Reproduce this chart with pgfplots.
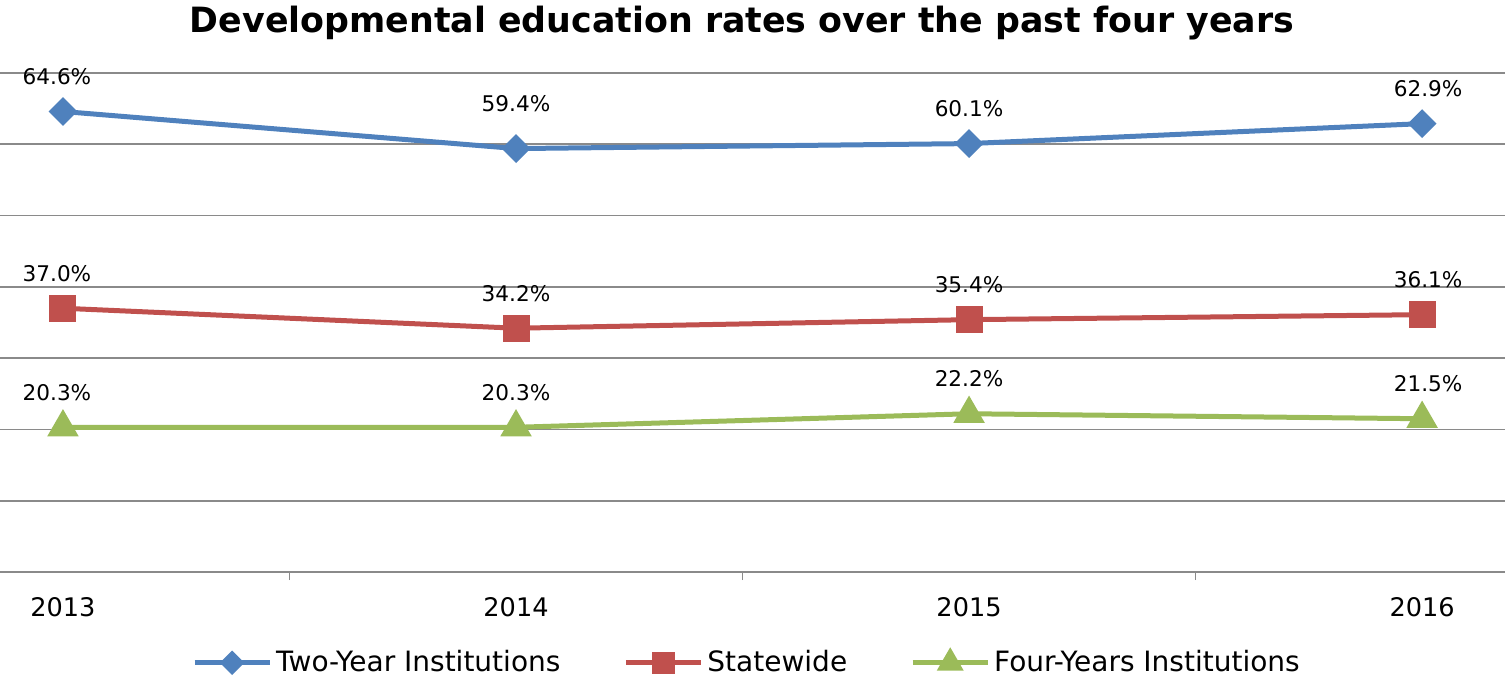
\documentclass[border=0pt]{standalone}
\usepackage{fontspec}
\setmainfont{DejaVu Sans}
\usepackage{pgfplots}
\pgfplotsset{compat=1.18}

\definecolor{twoyr}{HTML}{4F81BD}
\definecolor{statew}{HTML}{C0504D}
\definecolor{fouryr}{HTML}{9BBB59}
\definecolor{gridgray}{HTML}{8A8A8A}

\begin{document}
\begin{tikzpicture}
\begin{axis}[
    scale only axis,
    width=752.5pt, height=249.5pt,
    xmin=-0.139, xmax=3.183,
    ymin=0, ymax=70,
    axis lines*=left,
    y axis line style={draw=none},
    x axis line style={draw=gridgray, line width=1.2pt},
    xtick={0,1,2,3},
    xticklabels={2013,2014,2015,2016},
    minor xtick={0.5,1.5,2.5},
    major tick length=0pt,
    minor tick length=4pt,
    tick align=outside,
    minor tick style={draw=gridgray, line width=0.8pt},
    ytick={0,10,...,70},
    yticklabels={},
    ymajorgrids,
    major grid style={draw=gridgray, line width=0.8pt},
    xticklabel style={font=\fontsize{12.8}{15}\selectfont, anchor=center, yshift=-17.5pt},
    /pgf/number format/assume math mode=true,
    title={Developmental education rates over the past four years},
    title style={font=\fontsize{17.4}{20}\selectfont\bfseries, at={(0.493,1)}, anchor=center, yshift=19pt},
    point meta=y,
    nodes near coords={\pgfmathprintnumber[fixed,fixed zerofill,precision=1]{\pgfplotspointmeta}\%},
    every node near coord/.append style={font=\fontsize{10.8}{13}\selectfont, text=black, anchor=center, yshift=17.5pt},
    coordinate style/.condition={\coordindex==0}{xshift=-3pt},
    coordinate style/.condition={\coordindex==3}{xshift=3pt},
    legend style={at={(axis description cs:0.497,-0.182)}, anchor=center, legend columns=3,
        draw=none, fill=none, font=\fontsize{14}{16}\selectfont,
        /tikz/every even column/.append style={column sep=29.5pt}},
    legend cell align=left,
    legend image code/.code={\draw[#1, mark repeat=2, mark phase=2, every mark/.append style={scale=0.8}]
        plot coordinates {(0pt,0pt) (18.75pt,0pt) (37.5pt,0pt)};},
    clip=false,
]
\addplot[color=twoyr, line width=2.5pt, mark=square*, mark size=3.85pt,
    mark options={solid, rotate=45, fill=twoyr},
    coordinate style/.condition={\coordindex==1}{yshift=5pt}] coordinates {
    (0, 64.6) (1, 59.4) (2, 60.1) (3, 62.9)
};
\addlegendentry{Two-Year Institutions}

\addplot[color=statew, line width=2.5pt, mark=square*, mark size=5.5pt,
    mark options={solid, fill=statew}] coordinates {
    (0, 37.0) (1, 34.2) (2, 35.4) (3, 36.1)
};
\addlegendentry{Statewide}

\addplot[color=fouryr, line width=2.5pt, mark=triangle*, mark size=6.6pt,
    mark options={solid, fill=fouryr}] coordinates {
    (0, 20.3) (1, 20.3) (2, 22.2) (3, 21.5)
};
\addlegendentry{Four-Years Institutions}
\end{axis}
\pgfresetboundingbox
\useasboundingbox (0,-54pt) rectangle (752.5pt,286pt);
\end{tikzpicture}
\end{document}
